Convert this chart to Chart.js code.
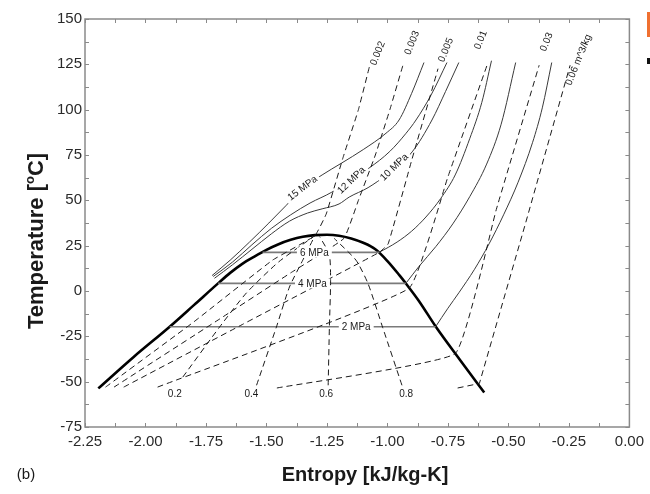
<!DOCTYPE html>
<html>
<head>
<meta charset="utf-8">
<script src="https://cdn.jsdelivr.net/npm/chart.js@4.4.0/dist/chart.umd.min.js"></script>
<style>
  html, body { margin: 0; padding: 0; background: #fff; }
  #wrap { position: relative; width: 650px; height: 494px; }
  #flag { position: absolute; left: 647px; top: 12px; width: 3px; height: 25px; background: #f07030; }
  #dot { position: absolute; left: 647px; top: 58px; width: 3px; height: 6px; background: #111; }
</style>
</head>
<body>
<div id="wrap">
  <canvas id="myChart" width="650" height="494"></canvas>
  <div id="flag"></div><div id="dot"></div>
</div>
<script>
// axis tick labels
const xTickLabels = ['-2.25', '-2.00', '-1.75', '-1.50', '-1.25', '-1.00', '-0.75', '-0.50', '-0.25', '0.00'];
const yTickLabels = ['-75', '-50', '-25', '0', '25', '50', '75', '100', '125', '150'];

// saturation dome (entropy kJ/kg-K, temperature C)
const satS = [-2.195, -2.05, -1.90, -1.80, -1.70, -1.65, -1.60, -1.55, -1.50, -1.45, -1.40, -1.35, -1.30, -1.25, -1.20, -1.15, -1.10, -1.05, -1.00, -0.95, -0.924, -0.87, -0.80, -0.70, -0.60];
const satT = [-53.7, -36.5, -19.7, -7.8, 4.2, 10, 15, 19, 22.7, 25.8, 28.2, 29.9, 30.8, 31, 30.5, 29, 26.6, 23, 16.5, 8.6, 4.2, -5.5, -19.7, -38, -56];

// isobars inside the dome
const p2DomeS = [-1.90, -0.801];
const p2DomeT = [-19.7, -19.7];
const p4DomeS = [-1.70, -0.924];
const p4DomeT = [4.2, 4.2];
const p6DomeS = [-1.516, -1.034];
const p6DomeT = [21.3, 21.3];

// isobars outside the dome
const p15S = [-1.725, -1.65, -1.57, -1.49, -1.42, -1.35, -1.27, -1.19, -1.10, -1.006, -0.952, -0.90, -0.849];
const p15T = [8.5, 17, 27, 37.5, 47, 56.5, 64, 70.5, 78, 87, 94.3, 109, 126];
const p12S = [-1.72, -1.64, -1.56, -1.48, -1.40, -1.32, -1.23, -1.158, -1.076, -0.99, -0.923, -0.882, -0.82, -0.754];
const p12T = [8, 16, 25.5, 34.5, 42, 48.5, 54.5, 61, 67.8, 77, 87, 94.3, 108, 126];
const p10S = [-1.715, -1.64, -1.56, -1.48, -1.405, -1.33, -1.27, -1.20, -1.158, -1.08, -1.00, -0.898, -0.816, -0.76, -0.705];
const p10T = [7, 14.5, 23, 31.5, 38.5, 43, 45.3, 48, 51.8, 57, 64.5, 76.7, 94.3, 110, 126];
const p6S = [-1.034, -0.96, -0.90, -0.841, -0.78, -0.72, -0.66, -0.61, -0.57];
const p6T = [21.3, 27, 33, 40.8, 51, 64, 84, 104, 127];
const p4S = [-0.924, -0.87, -0.80, -0.73, -0.66, -0.59, -0.53, -0.47];
const p4T = [4.2, 13.5, 24.5, 37, 52, 70, 92, 126];
const p2S = [-0.801, -0.75, -0.705, -0.64, -0.58, -0.52, -0.46, -0.40, -0.36, -0.321];
const p2T = [-19.7, -9.5, -1, 12, 26, 42, 60, 82, 101, 126];

// isochores (m^3/kg)
const v002S = [-2.165, -1.80, -1.475, -1.30, -1.253, -1.184, -1.12, -1.073];
const v002T = [-53, -17, 17, 30.5, 42.5, 73.4, 100, 124.5];
const v003S = [-2.13, -1.70, -1.40, -1.18, -1.12, -1.05, -0.99, -0.936];
const v003T = [-53, -16, 10, 29, 50, 75, 100, 124.5];
const v005S = [-2.09, -1.60, -1.034, -0.997, -0.90, -0.791];
const v005T = [-53, -18.5, 21.3, 26, 72, 122.6];
const v01S = [-1.95, -0.911, -0.75, -0.586];
const v01T = [-53, 1.5, 63, 125.4];
const v03S = [-1.457, -0.72, -0.55, -0.373];
const v03T = [-53.5, -34.5, 45, 124.5];
const v06S = [-0.71, -0.62, -0.43, -0.245];
const v06T = [-53.5, -51, 37, 124.5];

// constant quality lines
const x02S = [-1.846, -1.694, -1.583, -1.45, -1.30];
const x02T = [-47.5, -19.9, -1.1, 16, 30.5];
const x04S = [-1.541, -1.459, -1.405, -1.35, -1.30];
const x04T = [-52, -19.9, 2.2, 17, 30.5];
const x06S = [-1.245, -1.24, -1.235, -1.24, -1.28];
const x06T = [-52, -20, 5, 20, 30];
const x08S = [-0.94, -1.02, -1.08, -1.13, -1.22];
const x08T = [-52, -20, 4, 17, 29];

// text labels on the curves
const isobarLabels = ['15 MPa', '12 MPa', '10 MPa', '6 MPa', '4 MPa', '2 MPa'];
const isobarLabelS = [-1.352, -1.150, -0.973, -1.302, -1.310, -1.129];
const isobarLabelT = [56.8, 61.2, 68.4, 21.3, 4.2, -19.7];
const isobarLabelAngle = [-37, -44, -44, 0, 0, 0];

const volLabels = ['0.002', '0.003', '0.005', '0.01', '0.03', '0.06 m^3/kg'];
const volLabelS = [-1.040, -0.898, -0.758, -0.614, -0.342, -0.210];
const volLabelT = [131, 136.8, 132.9, 138.4, 137.3, 127.4];

const qualLabels = ['0.2', '0.4', '0.6', '0.8'];
const qualLabelS = [-1.879, -1.562, -1.253, -0.923];
const qualLabelT = [-57, -57, -57, -57];

const FONT = '"Liberation Sans", Arial, sans-serif';

const pts = (s, t) => s.map((v, i) => ({x: v, y: t[i]}));

const dashed = (s, t, tension) => ({
    data: pts(s, t), showLine: true, pointRadius: 0, borderColor: '#1a1a1a',
    borderWidth: 1, borderDash: [6, 4], tension: tension || 0
});
const solid = (s, t) => ({
    data: pts(s, t), showLine: true, pointRadius: 0, borderColor: '#3a3a3a',
    borderWidth: 1, cubicInterpolationMode: 'monotone'
});
const flat = (s, t) => ({
    data: pts(s, t), showLine: true, pointRadius: 0, borderColor: '#7a7a7a',
    borderWidth: 1.6, tension: 0
});

const xMajor = xTickLabels.map(Number);
const yMajor = yTickLabels.map(Number);
const withMinor = (arr) => {
    let out = [];
    arr.forEach((v, i) => {
        out.push(v);
        if (i < arr.length - 1) out.push((v + arr[i + 1]) / 2);
    });
    return out;
};

const decor = {
    id: 'decor',
    afterDatasetsDraw(chart) {
        const {ctx, scales: {x, y}} = chart;
        ctx.save();
        ctx.fillStyle = '#1a1a1a';
        ctx.textBaseline = 'middle';
        ctx.textAlign = 'center';

        // isobar labels with a white gap behind
        ctx.font = '10px ' + FONT;
        isobarLabels.forEach((txt, i) => {
            let px = x.getPixelForValue(isobarLabelS[i]);
            let py = y.getPixelForValue(isobarLabelT[i]);
            let w = ctx.measureText(txt).width;
            ctx.save();
            ctx.translate(px, py);
            ctx.rotate(isobarLabelAngle[i] * Math.PI / 180);
            ctx.fillStyle = '#fff';
            ctx.fillRect(-w / 2 - 3, -5, w + 6, 10);
            ctx.fillStyle = '#1a1a1a';
            ctx.fillText(txt, 0, 0.5);
            ctx.restore();
        });

        // specific volume labels
        ctx.font = '10px ' + FONT;
        volLabels.forEach((txt, i) => {
            ctx.save();
            ctx.translate(x.getPixelForValue(volLabelS[i]), y.getPixelForValue(volLabelT[i]));
            ctx.rotate(-68 * Math.PI / 180);
            ctx.fillText(txt, 0, 0);
            ctx.restore();
        });

        // quality labels
        ctx.font = '10px ' + FONT;
        qualLabels.forEach((txt, i) => {
            ctx.fillText(txt, x.getPixelForValue(qualLabelS[i]), y.getPixelForValue(qualLabelT[i]));
        });
        ctx.restore();
    },
    afterDraw(chart) {
        const {ctx, chartArea: a, scales: {x, y}} = chart;
        ctx.save();
        // frame
        ctx.strokeStyle = '#8a8a8a';
        ctx.lineWidth = 1.5;
        ctx.strokeRect(a.left, a.top, a.right - a.left, a.bottom - a.top);
        // inward ticks
        ctx.lineWidth = 1;
        ctx.beginPath();
        x.ticks.forEach(t => {
            let px = Math.round(x.getPixelForValue(t.value)) + 0.5;
            ctx.moveTo(px, a.bottom); ctx.lineTo(px, a.bottom - 4);
            ctx.moveTo(px, a.top); ctx.lineTo(px, a.top + 4);
        });
        y.ticks.forEach(t => {
            let py = Math.round(y.getPixelForValue(t.value)) + 0.5;
            ctx.moveTo(a.left, py); ctx.lineTo(a.left + 4, py);
            ctx.moveTo(a.right, py); ctx.lineTo(a.right - 4, py);
        });
        ctx.stroke();

        // axis titles
        ctx.fillStyle = '#1a1a1a';
        ctx.textBaseline = 'middle';
        ctx.textAlign = 'center';
        ctx.font = 'bold 20px ' + FONT;
        ctx.fillText('Entropy [kJ/kg-K]', 365, 475);
        ctx.font = '15px ' + FONT;
        ctx.fillText('(b)', 26, 475);

        // y title with superscript o
        ctx.translate(37, 241);
        ctx.rotate(-Math.PI / 2);
        ctx.textAlign = 'left';
        const big = 'bold 22px ' + FONT, small = 'bold 13px ' + FONT;
        ctx.font = big;
        let w1 = ctx.measureText('Temperature [').width;
        let w3 = ctx.measureText('C]').width;
        ctx.font = small;
        let w2 = ctx.measureText('o').width;
        let start = -(w1 + w2 + w3) / 2;
        ctx.font = big;
        ctx.fillText('Temperature [', start, 0);
        ctx.font = small;
        ctx.fillText('o', start + w1, -7);
        ctx.font = big;
        ctx.fillText('C]', start + w1 + w2, 0);
        ctx.restore();
    }
};

const datasets = [
    dashed(v002S, v002T, 0.1), dashed(v003S, v003T, 0.1), dashed(v005S, v005T, 0.1),
    dashed(v01S, v01T, 0.1), dashed(v03S, v03T, 0.1), dashed(v06S, v06T, 0),
    dashed(x02S, x02T, 0.2), dashed(x04S, x04T, 0.2), dashed(x06S, x06T, 0.2), dashed(x08S, x08T, 0.2),
    flat(p2DomeS, p2DomeT), flat(p4DomeS, p4DomeT), flat(p6DomeS, p6DomeT),
    solid(p15S, p15T), solid(p12S, p12T), solid(p10S, p10T),
    solid(p6S, p6T), solid(p4S, p4T), solid(p2S, p2T),
    {data: pts(satS, satT), showLine: true, pointRadius: 0, borderColor: '#000', borderWidth: 2.6, cubicInterpolationMode: 'monotone'}
];

new Chart(document.getElementById('myChart').getContext('2d'), {
    type: 'scatter',
    data: {datasets: datasets},
    options: {
        responsive: false,
        animation: false,
        layout: {padding: {top: 19, right: 19, left: 0, bottom: 0}},
        plugins: {legend: {display: false}, tooltip: {enabled: false}},
        scales: {
            x: {
                type: 'linear', min: -2.25, max: 0,
                afterBuildTicks: s => { s.ticks = withMinor(xMajor).map(v => ({value: v})); },
                afterFit: s => { s.height = 67; },
                grid: {drawOnChartArea: false, drawTicks: false},
                border: {display: false},
                ticks: {
                    autoSkip: false, maxRotation: 0, padding: 6, color: '#2a2a2a',
                    font: {size: 15, family: FONT},
                    callback: v => {
                        let i = xMajor.findIndex(m => Math.abs(m - v) < 1e-9);
                        return i >= 0 ? xTickLabels[i] : '';
                    }
                }
            },
            y: {
                type: 'linear', min: -75, max: 150,
                afterBuildTicks: s => { s.ticks = withMinor(yMajor).map(v => ({value: v})); },
                afterFit: s => { s.width = 85; },
                grid: {drawOnChartArea: false, drawTicks: false},
                border: {display: false},
                ticks: {
                    autoSkip: false, padding: 3, color: '#2a2a2a',
                    font: {size: 15, family: FONT},
                    callback: v => {
                        let i = yMajor.findIndex(m => Math.abs(m - v) < 1e-9);
                        return i >= 0 ? yTickLabels[i] : '';
                    }
                }
            }
        }
    },
    plugins: [decor]
});
</script>
</body>
</html>
